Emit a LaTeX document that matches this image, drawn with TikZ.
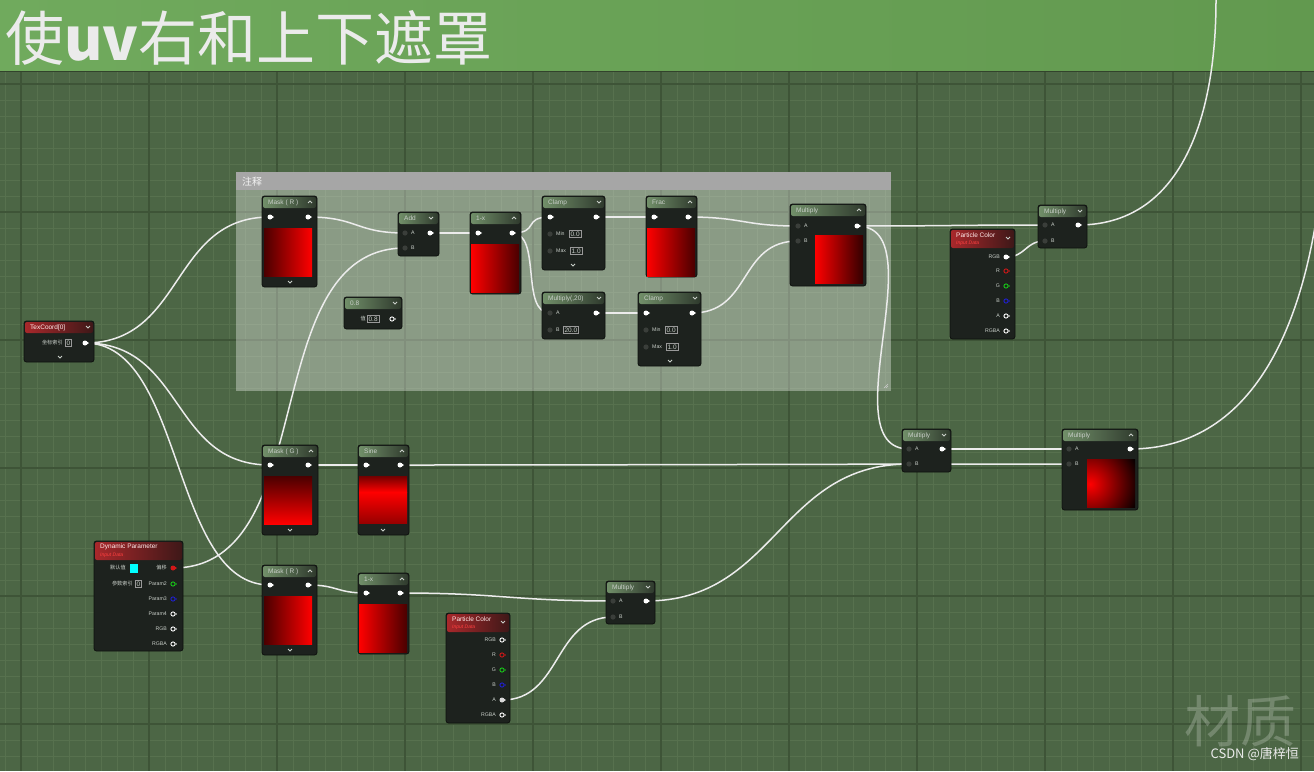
\documentclass[tikz,border=0pt]{standalone}
\usepackage{fontspec}
\setmainfont{Liberation Sans}
\newfontfamily\cjk{Noto Sans CJK SC}
\definecolor{bgc}{HTML}{4C6645}
\definecolor{minorc}{HTML}{57714E}
\definecolor{majorc}{HTML}{3E5437}
\definecolor{bandl}{HTML}{70AA5D}
\definecolor{bandr}{HTML}{62994F}
\definecolor{bodyc}{HTML}{1D221E}
\definecolor{edgec}{HTML}{0E110E}
\definecolor{hgl}{HTML}{718F69}
\definecolor{hgr}{HTML}{2F3A2D}
\definecolor{hrl}{HTML}{A8282B}
\definecolor{hrr}{HTML}{3E1818}
\definecolor{wirec}{HTML}{ECECEC}
\definecolor{txtc}{HTML}{C9CFC9}
\definecolor{pdark}{HTML}{3A3E3A}
\definecolor{pred}{HTML}{D01818}
\definecolor{pgreen}{HTML}{18C818}
\definecolor{pblue}{HTML}{2020D0}
\definecolor{dred}{HTML}{4A0000}
\definecolor{bred}{HTML}{FF0000}
\definecolor{cyanbox}{HTML}{00FFFF}
\newcommand\gnode[6]{%
  \fill[nodebody] (#2,#3) rectangle (#4,#5);
  \shade[hdrg] (#2+1,#3+1) rectangle (#4-1,#3+12);
  \node[ttl] (#1) at (#2+6,#3+6.5) {#6};}
\newcommand\rnode[7]{%
  \fill[nodebody] (#2,#3) rectangle (#4,#5);
  \shade[hdrr] (#2+1,#3+1) rectangle (#4-1,#3+19);
  \node[ttl,text=white!92!red] (#1) at (#2+6,#3+6) {#6};
  \node[subttl] (#1-sub) at (#2+6,#3+14.5) {#7};}
\newcommand\rnodeS[6]{%
  \fill[nodebody] (#2,#3) rectangle (#4,#5);
  \shade[hdrr] (#2+1,#3+1) rectangle (#4-1,#3+12);
  \node[ttl,text=white!92!red] (#1) at (#2+6,#3+6.5) {#6};}
\newcommand\chd[2]{\draw[chev] (#1-2,#2-1) -- (#1,#2+1) -- (#1+2,#2-1);}
\newcommand\chu[2]{\draw[chev] (#1-2,#2+1) -- (#1,#2-1) -- (#1+2,#2+1);}
\newcommand\pinw[3][white]{\fill[#1] (#2,#3) circle (2.5);
  \fill[#1] (#2+1.6,#3-1.6) -- (#2+4,#3) -- (#2+1.6,#3+1.6) -- cycle;}
\newcommand\pind[2]{\fill[pdark] (#1,#2) circle (2.6);}
\newcommand\pinh[3]{\draw[#3,line width=0.9] (#1,#2) circle (2.1);
  \fill[#3] (#1+2.5,#2-1.3) -- (#1+4,#2) -- (#1+2.5,#2+1.3) -- cycle;}
\newcommand\labl[4]{\node[plab,anchor=west] (#1) at (#2,#3) {#4};}
\newcommand\labr[4]{\node[plab,anchor=east] (#1) at (#2,#3) {#4};}
\newcommand\vb[4]{\node[vbox] (#1) at (#2,#3) {#4};}
\begin{document}
\begin{tikzpicture}[x=1pt,y=-1pt,
  nodebody/.style={fill=bodyc,draw=edgec,line width=0.8,rounded corners=2.5},
  hdrg/.style={left color=hgl,right color=hgr,rounded corners=2},
  hdrr/.style={left color=hrl,right color=hrr,rounded corners=2},
  ttl/.style={anchor=west,inner sep=0,text=txtc,font=\fontsize{6.5}{7}\selectfont},
  subttl/.style={anchor=west,inner sep=0,text=red!75!white,font=\itshape\fontsize{5}{6}\selectfont},
  plab/.style={inner sep=0,text=txtc,font=\fontsize{5.2}{6}\selectfont},
  vbox/.style={anchor=west,draw=gray!80!white,line width=0.6,inner xsep=1.3,inner ysep=1.1,text=txtc,font=\fontsize{6.5}{7}\selectfont},
  chev/.style={draw=txtc,line width=0.8},
  wire/.style={draw=wirec,line width=1.5},
  minorg/.style={draw=minorc,line width=0.6},
  majorg/.style={draw=majorc,line width=1.1}]
\useasboundingbox (0,0) rectangle (1314,771);
\begin{scope}
\clip (0,0) rectangle (1314,771);
% background and grid
\fill[bgc] (0,0) rectangle (1314,771);
\foreach \x in {5,21,...,1320} \draw[minorg] (\x,72) -- (\x,771);
\foreach \y in {84,100,...,780} \draw[minorg] (0,\y) -- (1314,\y);
\foreach \x in {21,149,...,1320} \draw[majorg] (\x,72) -- (\x,771);
\foreach \y in {84,212,...,780} \draw[majorg] (0,\y) -- (1314,\y);
% title band
\shade[left color=bandl,right color=bandr] (0,0) rectangle (1314,71);
\draw[majorc!80!black,line width=1] (0,71.5) -- (1314,71.5);
\node[anchor=west,inner sep=0,text=white!92!black,font=\cjk\fontsize{59}{59}\selectfont] (title) at (5,38) {使{\bfseries uv}右和上下遮罩};
% comment box
\fill[white,opacity=0.35] (236,190) rectangle (891,391);
\fill[gray!70!white] (236,172) rectangle (891,190);
\node[anchor=west,inner sep=0,text=white!95!black,font=\cjk\fontsize{10}{10}\selectfont] (cmt) at (242,181.5) {注释};
\draw[white!80!black,line width=0.6] (884,388) -- (888,384) (886,388) -- (888,386);
% pin coordinates
\coordinate (tc-o) at (85,343);
\coordinate (mr1-i) at (270,217); \coordinate (mr1-o) at (308,217);
\coordinate (add-a) at (405,233); \coordinate (add-b) at (405,248); \coordinate (add-o) at (430,233);
\coordinate (om1-i) at (478,233); \coordinate (om1-o) at (512,233);
\coordinate (cl1-i) at (550,217); \coordinate (cl1-o) at (596,217);
\coordinate (fr-i) at (654,217); \coordinate (fr-o) at (688,217);
\coordinate (m20-a) at (550,313); \coordinate (m20-o) at (596,313);
\coordinate (cl2-i) at (646,313); \coordinate (cl2-o) at (692,313);
\coordinate (mu1-a) at (798,226); \coordinate (mu1-b) at (798,241); \coordinate (mu1-o) at (857,226);
\coordinate (pc1-rgb) at (1006,257);
\coordinate (mu2-a) at (1045,225); \coordinate (mu2-b) at (1045,241); \coordinate (mu2-o) at (1078,225);
\coordinate (mg-i) at (270,465); \coordinate (mg-o) at (308,465);
\coordinate (si-i) at (366,465); \coordinate (si-o) at (400,465);
\coordinate (mr2-i) at (270,585); \coordinate (mr2-o) at (308,585);
\coordinate (om2-i) at (366,593); \coordinate (om2-o) at (400,593);
\coordinate (dp-off) at (173,568);
\coordinate (pc2-a) at (502,700);
\coordinate (mu3-a) at (613,601); \coordinate (mu3-b) at (613,617); \coordinate (mu3-o) at (646,601);
\coordinate (mu4-a) at (909,449); \coordinate (mu4-b) at (909,464); \coordinate (mu4-o) at (942,449);
\coordinate (mu5-a) at (1069,449); \coordinate (mu5-b) at (1069,464); \coordinate (mu5-o) at (1130,449);
\coordinate (up1) at (1216,-20);
\coordinate (up2) at (1326,120);
% wires
\draw[wire] (tc-o) .. controls +(100,0) and +(-100,0) .. (mr1-i);
\draw[wire] (tc-o) .. controls +(100,0) and +(-100,0) .. (mg-i);
\draw[wire] (tc-o) .. controls +(100,0) and +(-100,0) .. (mr2-i);
\draw[wire] (mr1-o) .. controls +(50,0) and +(-50,0) .. (add-a);
\draw[wire] (dp-off) .. controls +(150,0) and +(-150,0) .. (add-b);
\draw[wire] (add-o) -- (om1-i);
\draw[wire] (om1-o) .. controls +(28,0) and +(-28,0) .. (cl1-i);
\draw[wire] (om1-o) .. controls +(30,0) and +(-30,0) .. (m20-a);
\draw[wire] (cl1-o) -- (fr-i);
\draw[wire] (fr-o) .. controls +(55,0) and +(-55,0) .. (mu1-a);
\draw[wire] (m20-o) -- (cl2-i);
\draw[wire] (cl2-o) .. controls +(60,0) and +(-60,0) .. (mu1-b);
\draw[wire] (mu1-o) .. controls +(90,0) and +(-90,0) .. (mu2-a);
\draw[wire] (mu1-o) .. controls +(80,0) and +(-80,0) .. (mu4-a);
\draw[wire] (pc1-rgb) .. controls +(20,0) and +(-20,0) .. (mu2-b);
\draw[wire] (mu2-o) .. controls (1180,225) and (1216,120) .. (1216,0) -- (up1);
\draw[wire] (mg-o) -- (si-i);
\draw[wire] (si-o) .. controls +(250,0) and +(-250,0) .. (mu5-b);
\draw[wire] (mu3-o) .. controls +(130,0) and +(-130,0) .. (mu4-b);
\draw[wire] (mu4-o) -- (mu5-a);
\draw[wire] (mu5-o) .. controls (1245,449) and (1316,340) .. (up2);
\draw[wire] (mr2-o) .. controls +(30,0) and +(-30,0) .. (om2-i);
\draw[wire] (om2-o) .. controls +(100,0) and +(-100,0) .. (mu3-a);
\draw[wire] (pc2-a) .. controls +(60,0) and +(-60,0) .. (mu3-b);
% ---- nodes ----
% TexCoord
\rnodeS{tc}{24}{321}{94}{362}{TexCoord[0]}
\chd{88}{327}
\labr{tc-l}{63}{343}{\cjk 坐标索引}
\vb{tc-v}{65}{343}{0}
\pinw{85}{343}
\chd{60}{357}
% Mask R top
\gnode{mr1}{262}{196}{317}{287}{Mask ( R )}
\chu{310}{202}
\pinw{270}{217}\pinw{308}{217}
\shade[left color=dred,right color=bred] (264,228) rectangle (312,276);
\chd{290}{282}
% Add
\gnode{add}{398}{212}{439}{256}{Add}
\chd{431}{218}
\pind{405}{233}\pind{405}{248}\pinw{430}{233}
\labl{add-la}{411}{233}{A}\labl{add-lb}{411}{248}{B}
% constant 0.8
\gnode{cst}{344}{297}{402}{329}{0.8}
\chd{395}{303}
\labr{cst-l}{366}{319}{\cjk 值}
\vb{cst-v}{367}{319}{0.8}
\pinh{392}{319}{white}
% 1-x top
\gnode{om1}{470}{212}{521}{294}{1-x}
\chu{514}{218}
\pinw{478}{233}\pinw{512}{233}
\shade[left color=bred,right color=dred] (471,244) rectangle (519,292);
% Clamp 1
\gnode{cl1}{542}{196}{605}{270}{Clamp}
\chd{599}{202}
\pinw{550}{217}\pinw{596}{217}
\pind{550}{234}\labl{cl1-lmin}{556}{234}{Min}\vb{cl1-vmin}{569}{234}{0.0}
\pind{550}{251}\labl{cl1-lmax}{556}{251}{Max}\vb{cl1-vmax}{570}{251}{1.0}
\chd{573}{265}
% Frac
\gnode{fr}{646}{196}{697}{277}{Frac}
\chu{690}{202}
\pinw{654}{217}\pinw{688}{217}
\shade[left color=bred,right color=dred] (647,228) rectangle (695,276);
% Multiply(,20)
\gnode{m20}{542}{292}{605}{339}{Multiply(,20)}
\chd{599}{298}
\pind{550}{313}\labl{m20-la}{556}{313}{A}\pinw{596}{313}
\pind{550}{330}\labl{m20-lb}{556}{330}{B}\vb{m20-vb}{563}{330}{20.0}
% Clamp 2
\gnode{cl2}{638}{292}{701}{366}{Clamp}
\chd{695}{298}
\pinw{646}{313}\pinw{692}{313}
\pind{646}{330}\labl{cl2-lmin}{652}{330}{Min}\vb{cl2-vmin}{665}{330}{0.0}
\pind{646}{347}\labl{cl2-lmax}{652}{347}{Max}\vb{cl2-vmax}{666}{347}{1.0}
\chd{670}{361}
% Multiply top
\gnode{mu1}{790}{204}{866}{286}{Multiply}
\chu{859}{210}
\pind{798}{226}\labl{mu1-la}{804}{226}{A}\pinw{857}{226}
\pind{798}{241}\labl{mu1-lb}{804}{241}{B}
\shade[left color=bred,right color=black!80!red] (815,235) rectangle (863,283);
% Particle Color top
\rnode{pc1}{950}{229}{1015}{339}{Particle Color}{Input Data}
\chd{1008}{238}
\labr{pc1-l1}{1000}{257}{RGB}\pinw{1006}{257}
\labr{pc1-l2}{1000}{271}{R}\pinh{1006}{271}{pred}
\labr{pc1-l3}{1000}{286}{G}\pinh{1006}{286}{pgreen}
\labr{pc1-l4}{1000}{301}{B}\pinh{1006}{301}{pblue}
\labr{pc1-l5}{1000}{316}{A}\pinh{1006}{316}{white}
\labr{pc1-l6}{1000}{331}{RGBA}\pinh{1006}{331}{white}
% Multiply top right
\gnode{mu2}{1038}{205}{1087}{248}{Multiply}
\chd{1080}{211}
\pind{1045}{225}\labl{mu2-la}{1051}{225}{A}\pinw{1078}{225}
\pind{1045}{241}\labl{mu2-lb}{1051}{241}{B}
% Mask G
\gnode{mg}{262}{445}{318}{535}{Mask ( G )}
\chu{311}{451}
\pinw{270}{465}\pinw{308}{465}
\shade[top color=dred,bottom color=bred] (264,476) rectangle (312,524);
\chd{290}{530}
% Sine
\gnode{si}{358}{445}{409}{535}{Sine}
\chu{402}{451}
\pinw{366}{465}\pinw{400}{465}
\shade[top color=red!45!black,bottom color=bred] (359,476) rectangle (407,492);
\shade[top color=bred,bottom color=red!60!black] (359,492) rectangle (407,523);
\chd{383}{530}
% Mask R bottom
\gnode{mr2}{262}{565}{317}{655}{Mask ( R )}
\chu{310}{571}
\pinw{270}{585}\pinw{308}{585}
\shade[left color=dred,right color=bred] (264,596) rectangle (312,644);
\chd{290}{650}
% 1-x bottom
\gnode{om2}{358}{573}{409}{654}{1-x}
\chu{402}{579}
\pinw{366}{593}\pinw{400}{593}
\shade[left color=bred,right color=dred] (359,604) rectangle (407,652);
% Dynamic Parameter
\rnode{dp}{94}{541}{183}{651}{Dynamic Parameter}{Input Data}
\labr{dp-ldef}{126}{568}{\cjk 默认值}
\fill[cyanbox] (130,564) rectangle (138,573);
\labr{dp-loff}{167}{568}{\cjk 偏移}\pinw[pred]{173}{568}
\labr{dp-lidx}{133}{584}{\cjk 参数索引}\vb{dp-vidx}{135}{584}{0}
\labr{dp-l2}{167}{584}{Param2}\pinh{173}{584}{pgreen}
\labr{dp-l3}{167}{599}{Param3}\pinh{173}{599}{pblue}
\labr{dp-l4}{167}{614}{Param4}\pinh{173}{614}{white}
\labr{dp-l5}{167}{629}{RGB}\pinh{173}{629}{white}
\labr{dp-l6}{167}{644}{RGBA}\pinh{173}{644}{white}
% Particle Color bottom
\rnode{pc2}{446}{613}{510}{723}{Particle Color}{Input Data}
\chd{503}{622}
\labr{pc2-l1}{496}{640}{RGB}\pinh{502}{640}{white}
\labr{pc2-l2}{496}{655}{R}\pinh{502}{655}{pred}
\labr{pc2-l3}{496}{670}{G}\pinh{502}{670}{pgreen}
\labr{pc2-l4}{496}{685}{B}\pinh{502}{685}{pblue}
\labr{pc2-l5}{496}{700}{A}\pinw[white!85!black]{502}{700}
\labr{pc2-l6}{496}{715}{RGBA}\pinh{502}{715}{white}
% Multiply bottom
\gnode{mu3}{606}{581}{655}{624}{Multiply}
\chd{648}{587}
\pind{613}{601}\labl{mu3-la}{619}{601}{A}\pinw{646}{601}
\pind{613}{617}\labl{mu3-lb}{619}{617}{B}
% Multiply mid
\gnode{mu4}{902}{429}{951}{472}{Multiply}
\chd{944}{435}
\pind{909}{449}\labl{mu4-la}{915}{449}{A}\pinw{942}{449}
\pind{909}{464}\labl{mu4-lb}{915}{464}{B}
% Multiply right
\gnode{mu5}{1062}{429}{1138}{510}{Multiply}
\chu{1131}{435}
\pind{1069}{449}\labl{mu5-la}{1075}{449}{A}\pinw{1130}{449}
\pind{1069}{464}\labl{mu5-lb}{1075}{464}{B}
\begin{scope}
\clip (1087,459) rectangle (1135,507);
\shade[inner color=bred,outer color=black] (1090,484) circle (52);
\end{scope}
% watermark
\node[inner sep=0,text=white,opacity=0.22,font=\cjk\fontsize{56}{56}\selectfont] (wm) at (1240,721) {材质};
\node[anchor=east,inner sep=0,text=white!92!black,font=\cjk\fontsize{13}{13}\selectfont] (csdn) at (1299,754) {CSDN @唐梓恒};
\end{scope}
\end{tikzpicture}
\end{document}
